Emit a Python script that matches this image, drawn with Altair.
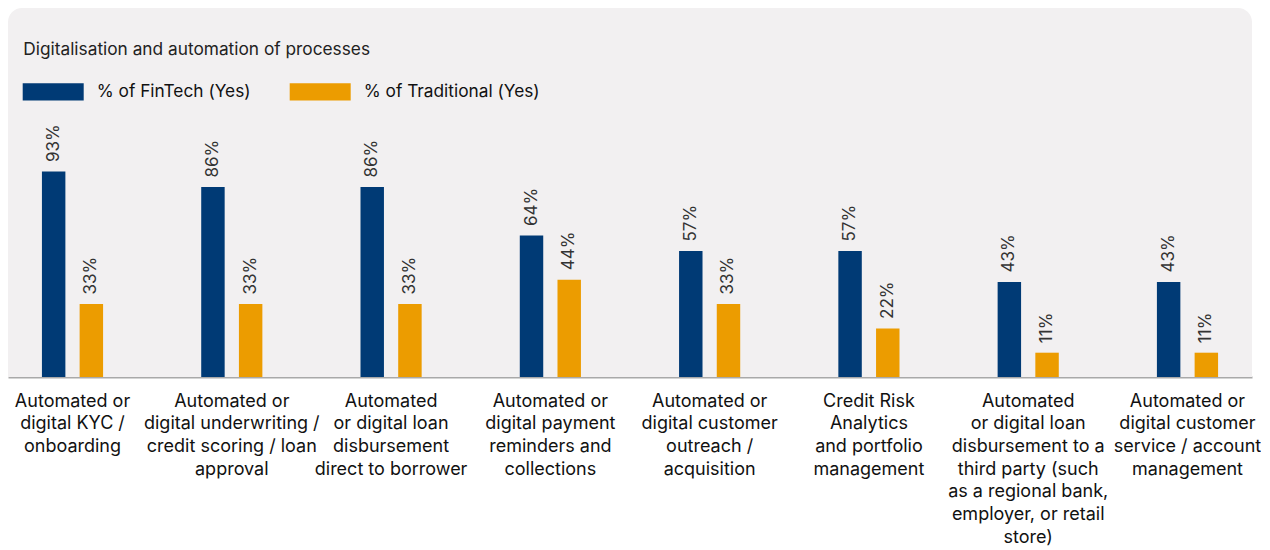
import altair as alt
import pandas as pd

categories = [
    "Automated or\ndigital KYC /\nonboarding",
    "Automated or\ndigital underwriting /\ncredit scoring / loan\napproval",
    "Automated\nor digital loan\ndisbursement\ndirect to borrower",
    "Automated or\ndigital payment\nreminders and\ncollections",
    "Automated or\ndigital customer\noutreach /\nacquisition",
    "Credit Risk\nAnalytics\nand portfolio\nmanagement",
    "Automated\nor digital loan\ndisbursement to a\nthird party (such\nas a regional bank,\nemployer, or retail\nstore)",
    "Automated or\ndigital customer\nservice / account\nmanagement",
]
series = ["% of FinTech (Yes)", "% of Traditional (Yes)"]
fintech = [93, 86, 86, 64, 57, 57, 43, 43]
traditional = [33, 33, 33, 44, 33, 22, 11, 11]
colors = ["#003a75", "#ec9c00"]
title_text = "Digitalisation and automation of processes"

rows = []
for c, f, t in zip(categories, fintech, traditional):
    rows.append({"category": c, "series": series[0], "value": f})
    rows.append({"category": c, "series": series[1], "value": t})
df = pd.DataFrame(rows)

W, H = 1244, 369
FONT = "Inter"

x_enc = alt.X(
    "category:N",
    sort=categories,
    scale=alt.Scale(paddingInner=0.19, paddingOuter=0),
    axis=alt.Axis(
        title=None,
        labelAngle=0,
        labelExpr="split(datum.label, '\\n')",
        labelFont=FONT,
        labelFontSize=18,
        labelColor="#111111",
        labelLineHeight=22.7,
        labelPadding=15,
        labelLimit=400,
        labelOverlap=False,
        labelBaseline="top",
        ticks=False,
        tickSize=0,
        domainColor="#a9a9a9",
        domainWidth=2,
        grid=False,
    ),
)
xoff = alt.XOffset(
    "series:N", sort=series,
    scale=alt.Scale(paddingInner=0.378, paddingOuter=0.9),
)
y_enc = alt.Y("value:Q", scale=alt.Scale(domain=[0, 167], nice=False, zero=True), axis=None)

panel = alt.Chart(pd.DataFrame({"p": [0]})).mark_rect(
    color="#f2f0f1", cornerRadiusTopLeft=14, cornerRadiusTopRight=14
).encode(
    x=alt.value(0), x2=alt.value(W), y=alt.value(0), y2=alt.value(H)
)

title = alt.Chart(pd.DataFrame({"t": [title_text]})).mark_text(
    align="left", baseline="alphabetic", font=FONT, fontSize=17.3, color="#222222"
).encode(x=alt.value(15.3), y=alt.value(47), text="t:N")

bars = alt.Chart(df).mark_bar().encode(
    x=x_enc,
    xOffset=xoff,
    y=y_enc,
    color=alt.Color(
        "series:N",
        sort=series,
        scale=alt.Scale(domain=series, range=colors),
        legend=alt.Legend(
            title=None,
            orient="none",
            direction="horizontal",
            legendX=14.7,
            legendY=53,
            symbolType="M-1,-0.285L1,-0.285L1,0.285L-1,0.285Z",
            symbolSize=3721,
            symbolStrokeWidth=0,
            symbolOpacity=1,
            labelFont=FONT,
            labelFontSize=17.3,
            labelColor="#111111",
            labelOffset=13,
            columnPadding=39,
            padding=0,
            labelLimit=400,
        ),
    ),
)

labels = alt.Chart(df).transform_calculate(
    lab="datum.value + '%'"
).mark_text(
    angle=270, align="left", baseline="middle", dx=9.5,
    font=FONT, fontSize=17, color="#333333",
).encode(
    x=alt.X("category:N", sort=categories),
    xOffset=xoff,
    y=y_enc,
    text="lab:N",
)

chart = alt.layer(panel, title, bars, labels).properties(
    width=W, height=H, padding=0, background="white"
).configure_view(stroke=None, strokeWidth=0)

chart.save("out.html", embed_options={"renderer": "svg", "actions": False})
